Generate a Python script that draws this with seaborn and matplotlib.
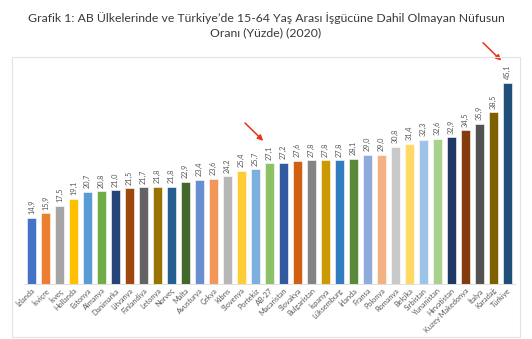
import matplotlib
matplotlib.use("Agg")
import matplotlib.pyplot as plt
import seaborn as sns
import pandas as pd
from matplotlib.patches import Rectangle

categories = ["İzlanda", "İsviçre", "İsveç", "Hollanda", "Estonya", "Almanya", "Danimarka",
              "Litvanya", "Finlandiya", "Letonya", "Norveç", "Malta", "Avusturya", "Çekya",
              "Kıbrıs", "Slovenya", "Portekiz", "AB-27", "Macaristan", "Slovakya",
              "Bulgaristan", "İspanya", "Lüksemburg", "İrlanda", "Fransa", "Polonya",
              "Romanya", "Belçika", "Sırbistan", "Yunanistan", "Hırvatistan",
              "Kuzey Makedonya", "İtalya", "Karadağ", "Türkiye"]
values = [14.9, 15.9, 17.5, 19.1, 20.7, 20.8, 21.0, 21.5, 21.7, 21.8, 21.8, 22.9, 23.4,
          23.6, 24.2, 25.4, 25.7, 27.1, 27.2, 27.6, 27.8, 27.8, 27.8, 28.1, 29.0, 29.0,
          30.8, 31.4, 32.3, 32.6, 32.9, 34.5, 35.9, 38.5, 45.1]
colors = ["#4472C4", "#ED7D31", "#A5A5A5", "#FFC000", "#5B9BD5", "#70AD47",
          "#264478", "#9E480E", "#636363", "#997300", "#255E91", "#43682B",
          "#698ED0", "#F1975A", "#B7B7B7", "#FFCD33", "#7CAFDD", "#8CC168",
          "#335AA1", "#D26012", "#848484", "#CC9A00", "#327DC2", "#5A8A39",
          "#8FAADC", "#F4B183", "#C9C9C9", "#FFD966", "#9DC3E6", "#A9D18E",
          "#203864", "#843C0C", "#525252", "#7F6000", "#1F4E79"]
highlight = ["AB-27", "Türkiye"]
title = ("Grafik 1: AB Ülkelerinde ve Türkiye’de 15-64 Yaş Arası İşgücüne Dahil Olmayan Nüfusun\n"
         "Oranı (Yüzde) (2020)")

sns.set_theme(style="white")
plt.rcParams["font.family"] = ["Lato", "DejaVu Sans"]

df = pd.DataFrame({"ulke": categories, "oran": values})

fig = plt.figure(figsize=(5.32, 3.39), dpi=100)
W, H = 532, 339
ax = fig.add_axes([24.5 / W, (H - 284) / H, 490 / W, 223 / H])

sns.barplot(data=df, x="ulke", y="oran", hue="ulke", palette=colors, legend=False,
            width=0.68, saturation=1, edgecolor="white", linewidth=0.4, ax=ax)

ax.set_xlim(-0.5, len(categories) - 0.5)
ax.set_ylim(0, 50)
ax.set_xlabel("")
ax.set_ylabel("")
ax.set_yticks([])
for s in ["top", "right", "left"]:
    ax.spines[s].set_visible(False)
ax.spines["bottom"].set_color("#d9d9d9")
ax.spines["bottom"].set_linewidth(0.6)
ax.tick_params(axis="x", length=0, pad=2)
ax.set_xticks(range(len(categories)))
ax.set_xticklabels(categories, rotation=45, ha="right", rotation_mode="anchor",
                   fontsize=5.3, color="#595959")

for cont in ax.containers:
    ax.bar_label(cont, labels=[f"{v:.1f}".replace(".", ",") for v in cont.datavalues],
                 rotation=90, padding=2.5, fontsize=5.3, color="#595959")

for name in highlight:
    i = categories.index(name)
    v = values[i]
    ax.annotate("", xy=(i - 0.45, v + 5.0), xytext=(i - 1.75, v + 9.0),
                arrowprops=dict(arrowstyle="-|>", color="#E8321E", lw=1.1,
                                mutation_scale=8, shrinkA=0, shrinkB=0),
                annotation_clip=False)

fig.add_artist(Rectangle((12 / W, (H - 337) / H), 508 / W, 280 / H,
                         transform=fig.transFigure, fill=False,
                         edgecolor="#e3e3e3", linewidth=0.8))

fig.text(0.5, (H - 25) / H, title, ha="center", va="center", fontsize=8.8,
         color="#3a3a3a", linespacing=1.4)

fig.savefig("out.png", dpi=100)
